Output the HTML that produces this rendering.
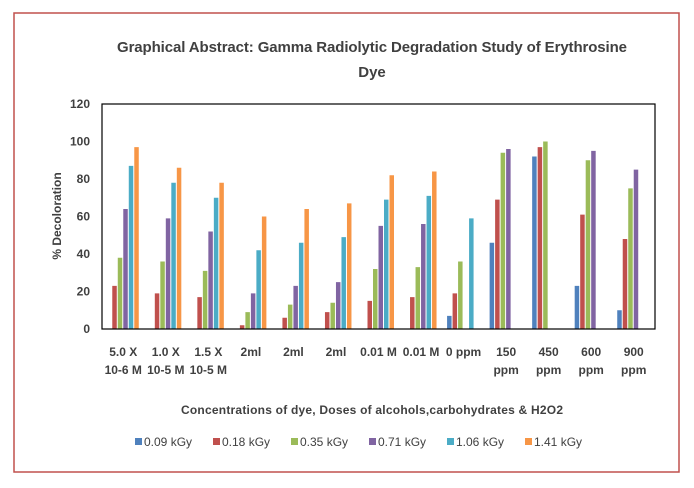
<!DOCTYPE html>
<html><head><meta charset="utf-8"><style>
body{margin:0;background:#fff;}
svg{display:block;font-family:"Liberation Sans",sans-serif;}
</style></head><body>
<svg id="chart" width="694" height="488">
<rect x="14" y="13" width="665" height="459" fill="#fff" stroke="#c0504d" stroke-width="1.5"/>
<text x="372" y="52" text-anchor="middle" font-size="15" font-weight="bold" fill="#404040" textLength="510">Graphical Abstract: Gamma Radiolytic Degradation Study of Erythrosine</text>
<text x="372" y="77" text-anchor="middle" font-size="15" font-weight="bold" fill="#404040">Dye</text>
<g id="yaxis"></g>
<g id="bars"></g>
<rect x="102" y="104" width="553" height="225" fill="none" stroke="#000" stroke-width="1.2"/>
<g id="xlabels"></g>
<text transform="translate(61,216) rotate(-90)" text-anchor="middle" font-size="12" font-weight="bold" fill="#404040">% Decoloration</text>
<text x="372" y="414" text-anchor="middle" font-size="12" font-weight="bold" fill="#404040" textLength="382">Concentrations of dye, Doses of alcohols,carbohydrates &amp; H2O2</text>
<g id="legend"></g>
</svg>
<script>
const categories=[["5.0 X","10-6 M"],["1.0 X","10-5 M"],["1.5 X","10-5 M"],["2ml"],["2ml"],["2ml"],["0.01 M"],["0.01 M"],["0 ppm"],["150","ppm"],["450","ppm"],["600","ppm"],["900","ppm"]];
const seriesNames=["0.09 kGy","0.18 kGy","0.35 kGy","0.71 kGy","1.06 kGy","1.41 kGy"];
const s009=[null,null,null,null,null,null,null,null,7,46,92,23,10];
const s018=[23,19,17,2,6,9,15,17,19,69,97,61,48];
const s035=[38,36,31,9,13,14,32,33,36,94,100,90,75];
const s071=[64,59,52,19,23,25,55,56,null,96,null,95,85];
const s106=[87,78,70,42,46,49,69,71,59,null,null,null,null];
const s141=[97,86,78,60,64,67,82,84,null,null,null,null,null];
const yTicks=[0,20,40,60,80,100,120];
const colors=["#4f81bd","#c0504d","#9bbb59","#8064a2","#4bacc6","#f79646"];
const series=[s009,s018,s035,s071,s106,s141];
const NS="http://www.w3.org/2000/svg";
const X0=102,W=553,Y0=329,H=225,YMAX=120;
const y=v=>Y0-v/YMAX*H;
const bw=W/categories.length;
const x=(i,j)=>X0+i*bw+bw/2-16.5+j*5.5;
function mk(t,a,p){const e=document.createElementNS(NS,t);for(const k in a)e.setAttribute(k,a[k]);p.appendChild(e);return e;}
const ya=document.getElementById('yaxis');
yTicks.forEach(t=>{const e=mk('text',{x:90,y:y(t)+4,'text-anchor':'end','font-size':12,'font-weight':'bold',fill:'#404040'},ya);e.textContent=t;

});
const bg=document.getElementById('bars');
series.forEach((s,j)=>s.forEach((v,i)=>{if(v==null)return;
const r=mk('rect',{x:x(i,j),y:y(v),width:4.5,height:Y0-y(v),fill:colors[j]},bg);

}));
const xl=document.getElementById('xlabels');
categories.forEach((c,i)=>c.forEach((l,k)=>{const e=mk('text',{x:X0+i*bw+bw/2,y:356+k*18,'text-anchor':'middle','font-size':12,'font-weight':'bold',fill:'#404040'},xl);e.textContent=l;

}));
const lg=document.getElementById('legend');
let lx=135;
seriesNames.forEach((n,j)=>{const g=mk('g',{},lg);


mk('rect',{x:lx,y:438,width:7,height:7,fill:colors[j]},g);
const t=mk('text',{x:lx+9,y:446,'font-size':12,fill:'#404040'},g);t.textContent=n;lx+=78;});
</script>
</body></html>
